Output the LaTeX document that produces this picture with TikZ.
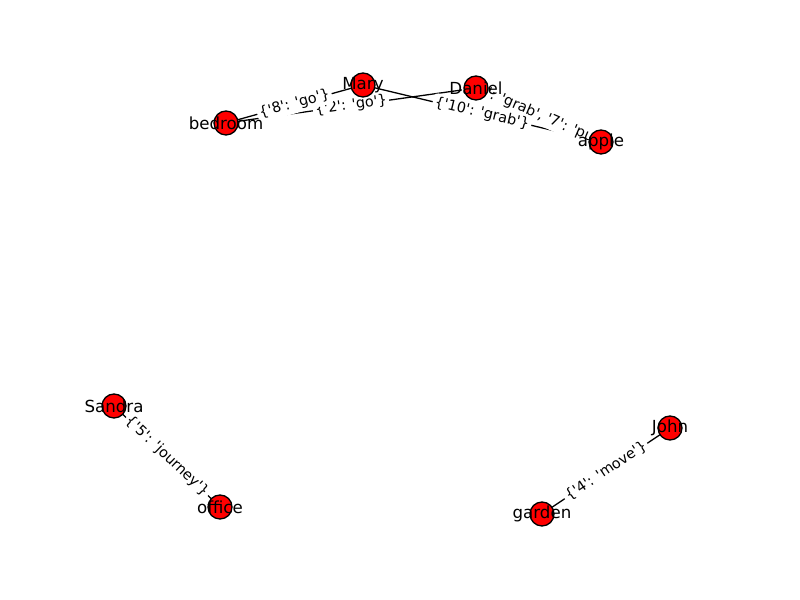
\documentclass[tikz,border=0pt]{standalone}
\usepackage{fontspec}
\setmainfont{DejaVu Sans}
\newcommand{\sq}{\textquotesingle}
\pgfdeclarelayer{edges}
\pgfdeclarelayer{labels}
\pgfsetlayers{edges,labels,main}

\begin{document}
\begin{tikzpicture}[x=0.03cm,y=-0.03cm]
% Graph style
\tikzset{
    entity/.style={circle,draw=black,fill=red,line width=1.1pt,minimum size=0.72cm,inner sep=0pt},
    entitylabel/.style={font=\fontsize{14.2}{16}\selectfont,inner sep=0pt},
    link/.style={draw=black,line width=1.1pt},
    relation/.style={font=\fontsize{12.3}{14}\selectfont,fill=white,rounded corners=3pt,inner sep=2pt,sloped,pos=0.5}
}
\useasboundingbox (0,0) rectangle (800,600);
% Entities
\node[entity] (mary) at (363,85){};
\node[entity] (daniel) at (476,88){};
\node[entity] (bedroom) at (226,123){};
\node[entity] (apple) at (601,142){};
\node[entity] (sandra) at (114,406){};
\node[entity] (office) at (220,507){};
\node[entity] (john) at (670,428){};
\node[entity] (garden) at (542,514){};
\node[entitylabel] (maryname) at (mary){Mary};
\node[entitylabel] (danielname) at (daniel){Daniel};
\node[entitylabel] (bedroomname) at (bedroom){bedroom};
\node[entitylabel] (applename) at (apple){apple};
\node[entitylabel] (sandraname) at (sandra){Sandra};
\node[entitylabel] (officename) at (office){office};
\node[entitylabel] (johnname) at (john){John};
\node[entitylabel] (gardenname) at (garden){garden};
% Relations
\begin{pgfonlayer}{edges}
\draw[link] (mary.center) -- (bedroom.center);
\draw[link] (daniel.center) -- (bedroom.center);
\draw[link] (mary.center) -- (apple.center);
\draw[link] (daniel.center) -- (apple.center);
\draw[link] (sandra.center) -- (office.center);
\draw[link] (john.center) -- (garden.center);
\end{pgfonlayer}
\begin{pgfonlayer}{labels}
\path (daniel.center) -- (bedroom.center) node[relation]{\{\sq2\sq: \sq go\sq\}};
\path (mary.center) -- (bedroom.center) node[relation]{\{\sq8\sq: \sq go\sq\}};
\path (daniel.center) -- (apple.center) node[relation]{\{\sq6\sq: \sq grab\sq, \sq7\sq: \sq put\sq\}};
\path (mary.center) -- (apple.center) node[relation]{\{\sq10\sq: \sq grab\sq\}};
\path (sandra.center) -- (office.center) node[relation]{\{\sq5\sq: \sq journey\sq\}};
\path (john.center) -- (garden.center) node[relation]{\{\sq4\sq: \sq move\sq\}};
\end{pgfonlayer}
\end{tikzpicture}
\end{document}
